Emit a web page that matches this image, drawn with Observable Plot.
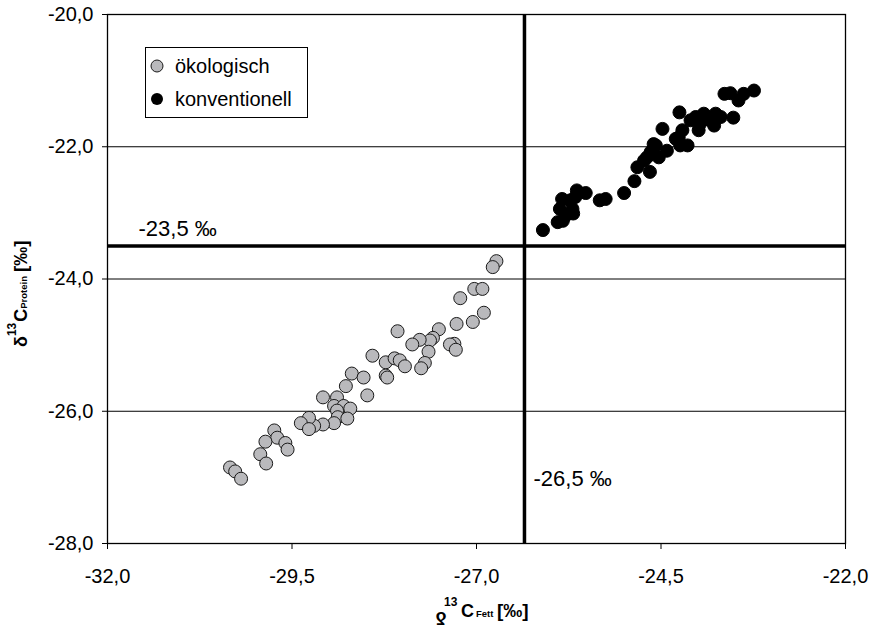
<!DOCTYPE html>
<html>
<head>
<meta charset="utf-8">
<script src="https://cdn.jsdelivr.net/npm/d3@7"></script>
<script src="https://cdn.jsdelivr.net/npm/@observablehq/plot@0.6"></script>
<style>
  html, body { margin: 0; padding: 0; background: #fff; }
  #wrap { position: relative; width: 880px; height: 630px; }
  svg { font-family: "Liberation Sans", Arial, sans-serif; }
</style>
</head>
<body>
<div id="wrap"></div>
<script>
// ---- data ----
const seriesNames = ["ökologisch", "konventionell"];

const oekoX = [-26.73, -26.78, -27.03, -26.92, -27.22, -26.90, -27.05, -27.27, -28.07, -27.51,
               -27.59, -27.63, -27.77, -27.87, -27.30, -27.36, -27.28, -27.65, -28.41, -28.23,
               -28.11, -28.04, -27.97, -27.70, -27.75, -28.69, -28.53, -28.23, -28.21, -28.77,
               -28.48, -29.08, -28.89, -28.93, -28.80, -28.71, -28.89, -28.88, -28.75, -28.93,
               -29.08, -29.20, -29.27, -29.38, -29.27, -29.74, -29.70, -29.59, -29.56, -29.86,
               -29.93, -29.85, -30.34, -30.27, -30.19];
const oekoY = [-23.73, -23.82, -24.15, -24.15, -24.29, -24.51, -24.65, -24.68, -24.79, -24.76,
               -24.89, -24.93, -24.92, -24.99, -24.98, -24.99, -25.07, -25.10, -25.16, -25.26,
               -25.20, -25.23, -25.32, -25.27, -25.35, -25.43, -25.49, -25.46, -25.49, -25.62,
               -25.76, -25.79, -25.79, -25.92, -25.92, -25.96, -25.99, -26.09, -26.11, -26.18,
               -26.20, -26.22, -26.10, -26.18, -26.27, -26.29, -26.40, -26.48, -26.58, -26.46,
               -26.65, -26.79, -26.85, -26.91, -27.02];

const konvX = [-26.10, -25.90, -25.83, -25.87, -25.84, -25.70, -25.69, -25.73, -25.64, -25.52,
               -25.66, -25.33, -25.25, -25.00, -24.86, -24.82, -24.65, -24.69, -24.73, -24.60,
               -24.53, -24.48, -24.42, -24.30, -24.21, -24.14, -24.24, -24.25, -24.03, -23.97,
               -23.78, -23.87, -23.69, -23.52, -23.64, -23.56, -23.45, -23.38, -23.24, -23.76,
               -23.92, -23.99, -24.57, -24.64, -24.26, -25.79, -24.10, -23.83];
const konvY = [-23.26, -23.14, -23.12, -22.94, -22.79, -22.94, -23.01, -22.81, -22.66, -22.70,
               -22.76, -22.81, -22.79, -22.70, -22.52, -22.31, -22.38, -22.16, -22.21, -21.96,
               -22.16, -21.73, -22.06, -21.88, -21.75, -21.98, -21.98, -21.48, -21.55, -21.65,
               -21.68, -21.55, -21.55, -21.56, -21.20, -21.19, -21.30, -21.20, -21.15, -21.50,
               -21.50, -21.75, -21.98, -22.08, -21.86, -23.04, -21.60, -21.60];

const xDomain = [-32, -22];
const yDomain = [-28, -20];
const xTicks = [-32, -29.5, -27, -24.5, -22];
const yTicks = [-28, -26, -24, -22, -20];
const gridY = [-26, -24, -22];

const proteinLine = -23.5;      // horizontal threshold
const proteinLabel = "-23,5 ‰";
const fettLine = -26.35;        // vertical threshold (as drawn in the picture)
const fettLabel = "-26,5 ‰";

// ---- build ----
const fmt = d => d.toFixed(1).replace(".", ",");
const oeko = oekoX.map((x, i) => ({x, y: oekoY[i], group: seriesNames[0]}));
const konv = konvX.map((x, i) => ({x, y: konvY[i], group: seriesNames[1]}));

const grayFill = "#b9b9bc";

const svg = Plot.plot({
  width: 880,
  height: 630,
  marginLeft: 107,
  marginRight: 35,
  marginTop: 14,
  marginBottom: 87,
  style: {
    fontFamily: '"Liberation Sans", Arial, sans-serif',
    fontSize: "20px",
    color: "#000",
    background: "#fff",
    overflow: "visible"
  },
  x: {domain: xDomain, ticks: xTicks, tickFormat: fmt, tickSize: 6, tickPadding: 19, label: null},
  y: {domain: yDomain, ticks: yTicks, tickFormat: fmt, tickSize: 5, tickPadding: 9, label: null},
  marks: [
    Plot.ruleY(gridY, {stroke: "#000", strokeWidth: 1}),
    Plot.frame({stroke: "#000", strokeWidth: 1.3}),
    Plot.ruleY([proteinLine], {stroke: "#000", strokeWidth: 3.5}),
    Plot.ruleX([fettLine], {stroke: "#000", strokeWidth: 3.5}),
    Plot.dot(oeko, {x: "x", y: "y", r: 6.5, fill: grayFill, stroke: "#1a1a1a", strokeWidth: 1}),
    Plot.dot(konv, {x: "x", y: "y", r: 6.5, fill: "#000", stroke: "#000", strokeWidth: 1}),
    Plot.text([proteinLabel], {
      x: () => xDomain[0], y: () => proteinLine, text: d => d,
      dx: 31, dy: -17, textAnchor: "start", fontSize: 22, fill: "#000"
    }),
    Plot.text([fettLabel], {
      x: () => fettLine, y: () => yDomain[0], text: d => d,
      dx: 9, dy: -65, textAnchor: "start", fontSize: 22, fill: "#000"
    })
  ]
});

document.getElementById("wrap").appendChild(svg);

const s = d3.select(svg);

// ---- legend ----
const lg = s.append("g").attr("font-size", 20).attr("fill", "#000").attr("text-anchor", "start");
lg.append("rect").attr("x", 145.5).attr("y", 47.5).attr("width", 162).attr("height", 70)
  .attr("fill", "#fff").attr("stroke", "#000").attr("stroke-width", 1);
lg.append("circle").attr("cx", 157).attr("cy", 66).attr("r", 6)
  .attr("fill", grayFill).attr("stroke", "#1a1a1a").attr("stroke-width", 1);
lg.append("text").attr("x", 175).attr("y", 73).attr("text-anchor", "start").text(seriesNames[0]);
lg.append("circle").attr("cx", 157).attr("cy", 99).attr("r", 6).attr("fill", "#000");
lg.append("text").attr("x", 175).attr("y", 106).attr("text-anchor", "start").text(seriesNames[1]);

// ---- x axis label: δ13C Fett [‰] ----
const xl = s.append("g").attr("font-weight", "bold").attr("fill", "#000").attr("text-anchor", "start");
xl.append("text").attr("font-size", 18)
  .attr("transform", "translate(441,618) rotate(180)")
  .attr("text-anchor", "middle").attr("dy", "0.35em").text("δ");
const xt = xl.append("text").attr("y", 617).attr("text-anchor", "start");
xt.append("tspan").attr("x", 444).attr("dy", -11).attr("font-size", 12).text("13");
xt.append("tspan").attr("x", 461).attr("dy", 11).attr("font-size", 18).text("C");
xt.append("tspan").attr("x", 476).attr("font-size", 9.5).text("Fett");
xt.append("tspan").attr("x", 497).attr("font-size", 19).text("[‰]");

// ---- y axis label: δ13C Protein [‰] ----
const yt = s.append("text").attr("font-weight", "bold").attr("fill", "#000")
  .attr("text-anchor", "start")
  .attr("transform", "translate(27,347) rotate(-90)");
yt.append("tspan").attr("font-size", 18).text("δ");
yt.append("tspan").attr("dy", -11).attr("font-size", 12).text("13");
yt.append("tspan").attr("dy", 11).attr("dx", 1).attr("font-size", 18).text("C");
yt.append("tspan").attr("font-size", 9.5).text("Protein");
yt.append("tspan").attr("dx", 4).attr("font-size", 19).text("[‰]");
</script>
</body>
</html>
